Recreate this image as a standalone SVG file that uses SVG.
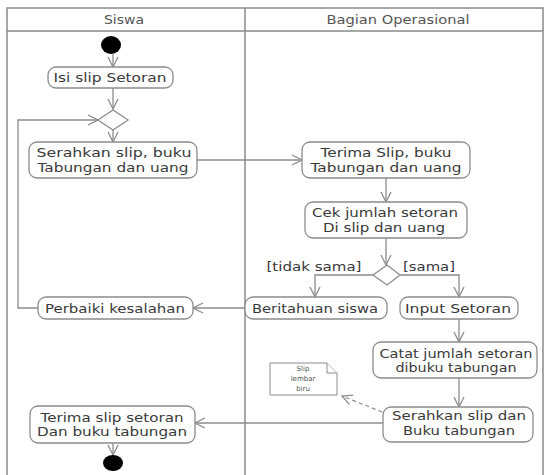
<svg xmlns="http://www.w3.org/2000/svg" width="548" height="475" viewBox="0 0 548 475">
  <style>
    .lane { fill: none; stroke: #8a8a8a; stroke-width: 1.5; }
    .act rect { fill: #ffffff; stroke: #8c8c8c; stroke-width: 1.3; }
    text { font-family: "DejaVu Sans", Verdana, sans-serif; font-size: 13px; fill: #3a3a3a; text-anchor: middle; }
    .hdr { font-size: 12.5px; fill: #555; }
    .flow { fill: none; stroke: #8c8c8c; stroke-width: 1.3; marker-end: url(#open); }
    .dash { fill: none; stroke: #8c8c8c; stroke-width: 1.2; stroke-dasharray: 4 3; marker-end: url(#open); }
    .dec { fill: #ffffff; stroke: #8c8c8c; stroke-width: 1.3; }
    .note { fill: #ffffff; stroke: #8c8c8c; stroke-width: 1; }
    .small { font-size: 7px; fill: #555; }
  </style>
  <defs>
    <marker id="open" viewBox="0 0 12 12" refX="11" refY="6" markerWidth="12" markerHeight="12" markerUnits="userSpaceOnUse" orient="auto">
      <path d="M1,1 L11,6 L1,11" fill="none" stroke="#8c8c8c" stroke-width="1.3"/>
    </marker>
  </defs>

  <rect width="548" height="475" fill="#ffffff"/>

  <!-- swimlanes -->
  <g id="lanes">
    <path class="lane" d="M7,475 V8 H543 V475"/>
    <line class="lane" x1="7" y1="31" x2="543" y2="31"/>
    <line class="lane" x1="245" y1="8" x2="245" y2="475"/>
    <text class="hdr" x="124" y="24" textLength="40" lengthAdjust="spacingAndGlyphs">Siswa</text>
    <text class="hdr" x="398" y="24" textLength="143" lengthAdjust="spacingAndGlyphs">Bagian Operasional</text>
  </g>

  <!-- connectors -->
  <g id="connectors">
    <line class="flow" x1="113" y1="54" x2="113" y2="67"/>
    <line class="flow" x1="113" y1="88" x2="113" y2="109"/>
    <line class="flow" x1="113" y1="130" x2="113" y2="142"/>
    <line class="flow" x1="197" y1="160" x2="302" y2="160"/>
    <line class="flow" x1="386" y1="178" x2="386" y2="202"/>
    <line class="flow" x1="386" y1="238" x2="386" y2="265"/>
    <polyline class="flow" points="373,275 315,275 315,297"/>
    <polyline class="flow" points="400,275 459,275 459,297"/>
    <line class="flow" x1="245" y1="308" x2="193" y2="308"/>
    <polyline class="flow" points="38,308 18,308 18,120 98,120"/>
    <line class="flow" x1="459" y1="318" x2="459" y2="342"/>
    <line class="flow" x1="459" y1="378" x2="459" y2="407"/>
    <line class="dash" x1="382" y1="412" x2="342" y2="396"/>
    <line class="flow" x1="383" y1="423" x2="195" y2="423"/>
    <line class="flow" x1="113" y1="443" x2="113" y2="455"/>
  </g>

  <!-- control nodes -->
  <g id="start"><ellipse cx="111" cy="45" rx="10" ry="9" fill="#000"/></g>
  <g id="merge"><polygon class="dec" points="113,110 128,120 113,130 98,120"/></g>
  <g id="check"><polygon class="dec" points="387,265 400,275 387,285 373,275"/></g>
  <g id="end"><ellipse cx="113" cy="463" rx="10" ry="8" fill="#000"/></g>

  <!-- activities -->
  <g id="isi-slip" class="act">
    <rect x="48" y="67" width="125" height="21" rx="8"/>
    <text x="110" y="82" textLength="113" lengthAdjust="spacingAndGlyphs">Isi slip Setoran</text>
  </g>
  <g id="serahkan-slip" class="act">
    <rect x="29" y="142" width="168" height="36" rx="8"/>
    <text x="114" y="157" textLength="155" lengthAdjust="spacingAndGlyphs">Serahkan slip, buku</text>
    <text x="113" y="172" textLength="151" lengthAdjust="spacingAndGlyphs">Tabungan dan uang</text>
  </g>
  <g id="terima-slip" class="act">
    <rect x="302" y="142" width="168" height="36" rx="8"/>
    <text x="386" y="157" textLength="131" lengthAdjust="spacingAndGlyphs">Terima Slip, buku</text>
    <text x="386" y="172" textLength="151" lengthAdjust="spacingAndGlyphs">Tabungan dan uang</text>
  </g>
  <g id="cek-jumlah" class="act">
    <rect x="305" y="202" width="162" height="36" rx="8"/>
    <text x="385" y="217" textLength="146" lengthAdjust="spacingAndGlyphs">Cek jumlah setoran</text>
    <text x="384" y="232" textLength="122" lengthAdjust="spacingAndGlyphs">Di slip dan uang</text>
  </g>
  <g id="guards">
    <text x="314" y="271" textLength="95" lengthAdjust="spacingAndGlyphs">[tidak sama]</text>
    <text x="429" y="271" textLength="52" lengthAdjust="spacingAndGlyphs">[sama]</text>
  </g>
  <g id="beritahuan" class="act">
    <rect x="245" y="297" width="142" height="22" rx="8"/>
    <text x="315" y="313" textLength="126" lengthAdjust="spacingAndGlyphs">Beritahuan siswa</text>
  </g>
  <g id="input-setoran" class="act">
    <rect x="400" y="297" width="118" height="22" rx="8"/>
    <text x="458" y="313" textLength="106" lengthAdjust="spacingAndGlyphs">Input Setoran</text>
  </g>
  <g id="perbaiki" class="act">
    <rect x="38" y="297" width="155" height="22" rx="8"/>
    <text x="115" y="313" textLength="140" lengthAdjust="spacingAndGlyphs">Perbaiki kesalahan</text>
  </g>
  <g id="catat" class="act">
    <rect x="373" y="342" width="164" height="36" rx="8"/>
    <text x="456" y="358" textLength="153" lengthAdjust="spacingAndGlyphs">Catat jumlah setoran</text>
    <text x="456" y="372" textLength="121" lengthAdjust="spacingAndGlyphs">dibuku tabungan</text>
  </g>
  <g id="serahkan-buku" class="act">
    <rect x="383" y="407" width="150" height="35" rx="8"/>
    <text x="459" y="420" textLength="134" lengthAdjust="spacingAndGlyphs">Serahkan slip dan</text>
    <text x="459" y="435" textLength="112" lengthAdjust="spacingAndGlyphs">Buku tabungan</text>
  </g>
  <g id="terima-buku" class="act">
    <rect x="30" y="406" width="165" height="37" rx="8"/>
    <text x="112" y="422" textLength="143" lengthAdjust="spacingAndGlyphs">Terima slip setoran</text>
    <text x="112" y="436" textLength="150" lengthAdjust="spacingAndGlyphs">Dan buku tabungan</text>
  </g>

  <!-- note object -->
  <g id="note-slip">
    <path class="note" d="M270,363 H327 L337,373 V395 H270 Z"/>
    <path class="note" d="M327,363 V373 H337"/>
    <text class="small" x="303" y="371">Slip</text>
    <text class="small" x="303" y="381">lembar</text>
    <text class="small" x="303" y="391">biru</text>
  </g>
</svg>
